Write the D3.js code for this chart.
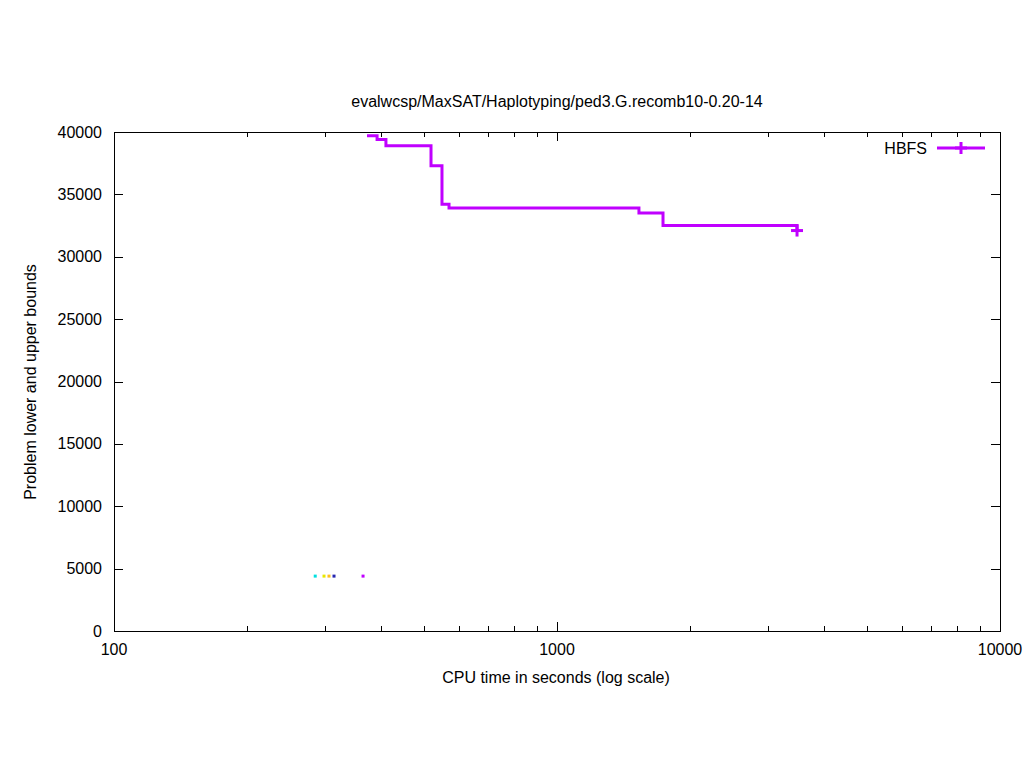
<!DOCTYPE html>
<html>
<head>
<meta charset="utf-8">
<script src="https://cdn.jsdelivr.net/npm/d3@7"></script>
<style>
  html, body { margin: 0; padding: 0; background: #fff; }
  text { font-family: "Liberation Sans", Arial, sans-serif; fill: #000; }
</style>
</head>
<body>
<svg id="chart" width="1024" height="768"></svg>
<script>
// ---- data ----
const chartTitle = "evalwcsp/MaxSAT/Haplotyping/ped3.G.recomb10-0.20-14";
const xTitle = "CPU time in seconds (log scale)";
const yTitle = "Problem lower and upper bounds";
const seriesName = "HBFS";
const hbfsTimes  = [372.5, 392.5, 411, 519.5, 550, 570.5, 1531, 1735, 3482];
const hbfsBounds = [39700, 39400, 38900, 37300, 34200, 33900, 33500, 32500, 32100];
const lowerTimes  = [284.6, 297.9, 305.7, 313.8, 364.9];
const lowerBounds = [4400, 4400, 4400, 4400, 4400];
const lowerColors = ["#00e0e0", "#e8e800", "#ffc020", "#2828b0", "#c000ff"];
const xTickValues = [100, 1000, 10000];
const yTickValues = [0, 5000, 10000, 15000, 20000, 25000, 30000, 35000, 40000];

// ---- layout ----
(function () {
const svg = d3.select("#chart");
const pL = 114, pR = 1000, pT = 132, pB = 631;
const x = d3.scaleLog().domain([100, 10000]).range([pL, pR]);
const y = d3.scaleLinear().domain([0, 40000]).range([pB, pT]);
const purple = "#c000ff";

const minor = [];
for (let d = 100; d < 10000; d *= 10) for (let k = 2; k <= 9; k++) minor.push(d * k);

const g = svg.append("g");
g.append("rect").attr("x", pL + 0.5).attr("y", pT + 0.5).attr("width", pR - pL).attr("height", pB - pT)
  .attr("fill", "none").attr("stroke", "#000").attr("stroke-width", 1);

xTickValues.forEach(v => {
  const px = Math.round(x(v)) + 0.5;
  g.append("line").attr("x1", px).attr("x2", px).attr("y1", pB).attr("y2", pB - 9).attr("stroke", "#000");
  g.append("line").attr("x1", px).attr("x2", px).attr("y1", pT).attr("y2", pT + 9).attr("stroke", "#000");
  g.append("text").attr("x", x(v)).attr("y", 655).attr("text-anchor", "middle").attr("font-size", 16).text(v);
});
minor.forEach(v => {
  const px = Math.round(x(v)) + 0.5;
  g.append("line").attr("x1", px).attr("x2", px).attr("y1", pB).attr("y2", pB - 5).attr("stroke", "#000");
  g.append("line").attr("x1", px).attr("x2", px).attr("y1", pT).attr("y2", pT + 5).attr("stroke", "#000");
});
yTickValues.forEach(v => {
  const py = Math.round(y(v)) + 0.5;
  g.append("line").attr("x1", pL).attr("x2", pL + 9).attr("y1", py).attr("y2", py).attr("stroke", "#000");
  g.append("line").attr("x1", pR).attr("x2", pR - 9).attr("y1", py).attr("y2", py).attr("stroke", "#000");
  g.append("text").attr("x", 102).attr("y", y(v) + 5.5).attr("text-anchor", "end").attr("font-size", 16).text(v);
});

svg.append("text").attr("x", 557).attr("y", 107).attr("text-anchor", "middle").attr("font-size", 16).text(chartTitle);
svg.append("text").attr("x", 556).attr("y", 683).attr("text-anchor", "middle").attr("font-size", 16).text(xTitle);
svg.append("text").attr("transform", "translate(36,382) rotate(-90)").attr("text-anchor", "middle").attr("font-size", 16).text(yTitle);

const pts = hbfsTimes.map((t, i) => [t, hbfsBounds[i]]);
const line = d3.line().x(d => x(d[0])).y(d => y(d[1])).curve(d3.curveStepAfter);
svg.append("path").attr("d", line(pts)).attr("fill", "none").attr("stroke", purple).attr("stroke-width", 3);

function plus(cx, cy) {
  svg.append("line").attr("x1", cx - 6).attr("x2", cx + 6).attr("y1", cy).attr("y2", cy).attr("stroke", purple).attr("stroke-width", 3);
  svg.append("line").attr("x1", cx).attr("x2", cx).attr("y1", cy - 6).attr("y2", cy + 6).attr("stroke", purple).attr("stroke-width", 3);
}
const last = pts[pts.length - 1];
plus(x(last[0]), y(last[1]));

lowerTimes.forEach((t, i) => {
  svg.append("rect").attr("x", x(t) - 1.5).attr("y", y(lowerBounds[i]) - 1.5).attr("width", 3).attr("height", 3).attr("fill", lowerColors[i]);
});

svg.append("text").attr("x", 927).attr("y", 154).attr("text-anchor", "end").attr("font-size", 16).text(seriesName);
svg.append("line").attr("x1", 937).attr("x2", 985).attr("y1", 148).attr("y2", 148).attr("stroke", purple).attr("stroke-width", 3);
plus(961, 148);
})();
</script>
</body>
</html>
